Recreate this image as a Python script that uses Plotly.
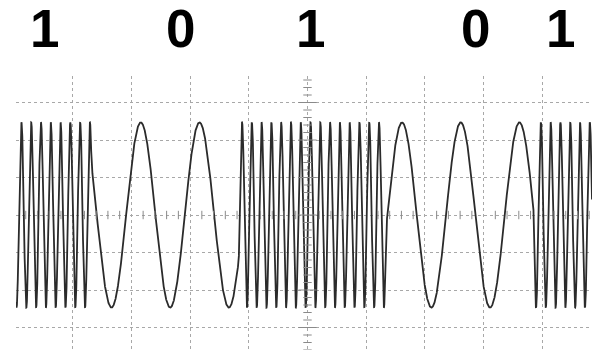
import numpy as np
import plotly.graph_objects as go

# ---- data (x in screen divisions, y in divisions) ----
bits = [1, 0, 1, 0, 1]
bit_edges = [-1.19, 1.32, 3.83, 6.34, 8.85, 11.36]   # start/end of each bit
freq_for_bit = {1: 6.0, 0: 1.0}                        # cycles per division
amplitude = 2.47                                       # divisions
peak_ref = 2.16                                        # a crest of the first "0" tone
bit_labels = ["1", "0", "1", "0", "1"]
label_x = [0.523, 2.836, 5.043, 7.87, 9.31]

x_lo, x_hi = 0.034, 9.847
y_lo, y_hi = -3.6, 3.707

# ---- build the continuous-phase FSK trace ----
t = np.linspace(x_lo, x_hi, 12000)
f = np.zeros_like(t)
for b, s, e in zip(bits, bit_edges[:-1], bit_edges[1:]):
    f[(t >= s) & (t < e)] = freq_for_bit[b]
dt = t[1] - t[0]
cyc = np.concatenate([[0.0], np.cumsum((f[1:] + f[:-1]) / 2 * dt)])
cyc -= np.interp(peak_ref, t, cyc)
sig = amplitude * np.cos(2 * np.pi * cyc)

fig = go.Figure()
fig.add_trace(go.Scatter(x=t, y=sig, mode="lines",
                         line=dict(color="#2b2b2b", width=1.8),
                         hoverinfo="skip", showlegend=False))

# centre-axis graticule tick marks
minor_y = [k / 5 for k in range(-18, 19) if k % 5 != 0]
major_y = [k for k in range(-3, 4)]
minor_x = [k / 5 for k in range(1, 50) if k % 5 != 0]
fig.add_trace(go.Scatter(x=[5] * len(minor_y), y=minor_y, mode="markers",
                         marker=dict(symbol="line-ew", size=6,
                                     line=dict(color="#8a8a8a", width=1)),
                         hoverinfo="skip", showlegend=False))
fig.add_trace(go.Scatter(x=[5] * len(major_y), y=major_y, mode="markers",
                         marker=dict(symbol="line-ew", size=13,
                                     line=dict(color="#8a8a8a", width=1)),
                         hoverinfo="skip", showlegend=False))
fig.add_trace(go.Scatter(x=minor_x, y=[0] * len(minor_x), mode="markers",
                         marker=dict(symbol="line-ns", size=6,
                                     line=dict(color="#8a8a8a", width=1)),
                         hoverinfo="skip", showlegend=False))

for txt, lx in zip(bit_labels, label_x):
    fig.add_annotation(x=lx, xref="x", y=1 + (76 - 28.5) / 274, yref="paper",
                       text=txt, showarrow=False, xanchor="center",
                       yanchor="middle",
                       font=dict(family="Liberation Sans, Arial", size=53,
                                 color="black", weight="bold"))

fig.update_xaxes(range=[x_lo, x_hi], tickvals=list(range(1, 10)),
                 showticklabels=False, ticks="", showgrid=True,
                 gridcolor="#a8a8a8", griddash="dot", gridwidth=1,
                 zeroline=False, showline=False)
fig.update_yaxes(range=[y_lo, y_hi], tickvals=list(range(-3, 4)),
                 showticklabels=False, ticks="", showgrid=True,
                 gridcolor="#a8a8a8", griddash="dot", gridwidth=1,
                 zeroline=False, showline=False)
fig.update_layout(width=592, height=350,
                  margin=dict(l=16, r=0, t=76, b=0),
                  paper_bgcolor="white", plot_bgcolor="white")
fig.write_html("out.html",
               config={"displayModeBar": False, "staticPlot": True},
               post_script="document.body.style.margin='0';"
                           "document.body.style.overflow='hidden';")
